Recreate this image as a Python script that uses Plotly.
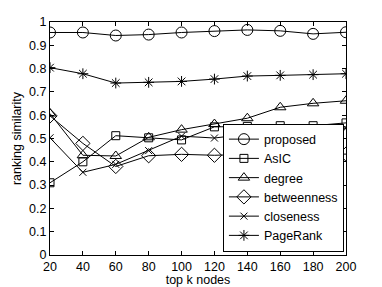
import plotly.graph_objects as go

k = [20, 40, 60, 80, 100, 120, 140, 160, 180, 200]
proposed = [0.955, 0.955, 0.942, 0.946, 0.955, 0.961, 0.966, 0.962, 0.949, 0.956]
asic = [0.31, 0.40, 0.512, 0.503, 0.494, 0.55, 0.552, 0.555, 0.555, 0.567]
degree = [0.607, 0.428, 0.425, 0.505, 0.538, 0.562, 0.587, 0.634, 0.651, 0.662]
betweenness = [0.597, 0.479, 0.38, 0.426, 0.432, 0.428, 0.432, 0.432, 0.432, 0.433]
closeness = [0.503, 0.355, 0.389, 0.448, 0.51, 0.502, 0.519, 0.541, 0.537, 0.544]
pagerank = [0.804, 0.778, 0.738, 0.741, 0.745, 0.755, 0.768, 0.771, 0.774, 0.778]

series = [
    ("proposed", proposed, "circle-open", 11),
    ("AsIC", asic, "square-open", 8),
    ("degree", degree, "triangle-up-open", 10),
    ("betweenness", betweenness, "diamond-open", 11),
    ("closeness", closeness, "x-thin-open", 7),
    ("PageRank", pagerank, "asterisk-open", 9),
]

FONT = "Liberation Sans, Arial"

fig = go.Figure()
for name, vals, sym, sz in series:
    fig.add_trace(go.Scatter(
        x=k, y=vals, name=name, mode="lines+markers",
        line=dict(color="black", width=1),
        marker=dict(symbol=sym, size=sz, color="black", line=dict(color="black", width=1)),
    ))

axis_common = dict(
    showline=True, linecolor="black", linewidth=1, mirror="ticks",
    ticks="inside", ticklen=4, tickcolor="black", showgrid=False, zeroline=False,
    automargin=False,
    tickfont=dict(family=FONT, size=12.5, color="black"),
)
fig.update_xaxes(range=[20, 200], tickvals=k, title=dict(text="top k nodes", standoff=2,
                 font=dict(family=FONT, size=12.5, color="black")), **axis_common)
fig.update_yaxes(range=[0, 1], dtick=0.1, tick0=0, title=dict(text="ranking similarity", standoff=4,
                 font=dict(family=FONT, size=12.5, color="black")), **axis_common)

# page body has an 8px default margin, so the figure is sized to fit inside
fig.update_layout(
    width=374, height=279,
    margin=dict(l=42, r=36, t=14, b=32),
    paper_bgcolor="white", plot_bgcolor="white",
    font=dict(family=FONT, size=12.5, color="black"),
    legend=dict(x=0.993, y=0.015, xanchor="right", yanchor="bottom",
                bgcolor="white", bordercolor="black", borderwidth=1,
                font=dict(size=12.5), tracegroupgap=0, itemwidth=30),
    showlegend=True,
)
fig.write_html("out.html")
